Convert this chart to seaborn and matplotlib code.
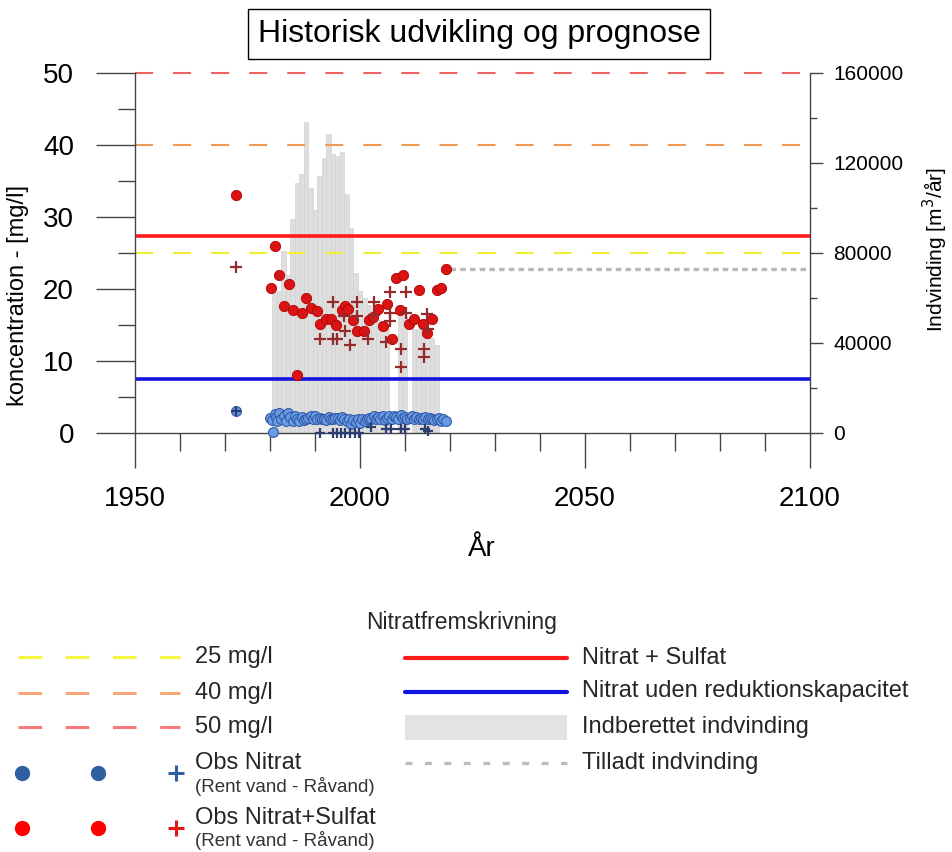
import numpy as np
import pandas as pd
import matplotlib
matplotlib.use("Agg")
import matplotlib.pyplot as plt
from matplotlib.ticker import MultipleLocator, FixedLocator
from matplotlib.patches import Rectangle
import seaborn as sns

sns.set_theme(style="ticks")
plt.rcParams['font.family'] = ['Liberation Sans', 'DejaVu Sans']
plt.rcParams['lines.scale_dashes'] = False

# ---------------- data ----------------
# Indberettet indvinding (m3/år)
bar_years = [1981, 1982, 1983, 1984, 1985, 1986, 1987, 1988, 1989, 1990,
             1991, 1992, 1993, 1994, 1995, 1996, 1997, 1998, 1999, 2000,
             2001, 2002, 2003, 2004, 2005, 2006, 2009, 2010, 2012, 2013,
             2014, 2015, 2016, 2017]
bar_values = [62000, 63000, 81000, 70000, 95000, 111000, 115000, 138000, 109000, 99000,
              114000, 122000, 133000, 124000, 123000, 125000, 106000, 91000, 71000, 63000,
              60000, 57000, 54000, 50000, 48000, 46000, 52000, 52000, 46000, 46000,
              48000, 44000, 42000, 39000]

# Tilladt indvinding
allowed_years = [2020, 2100]
allowed_values = [73000, 73000]

# Prognoses (mg/l)
prognose_nitrat_sulfat = 27.4
prognose_nitrat_uden = 7.5
thresholds = [25, 40, 50]
threshold_labels = ["25 mg/l", "40 mg/l", "50 mg/l"]

# Obs Nitrat+Sulfat, rent vand (red circles)
ns_rent_years = [1972.4, 1980.2, 1981.0, 1982.0, 1983.1, 1984.2, 1985.1, 1986.1, 1987.2, 1988.1,
                 1989.1, 1990.5, 1991.1, 1992.5, 1993.5, 1994.7, 1996.1, 1996.6, 1997.4, 1998.5,
                 1999.4, 2000.8, 2001.9, 2002.8, 2003.9, 2005.1, 2006.1, 2007.0, 2007.9, 2008.9,
                 2009.6, 2010.8, 2011.9, 2013.0, 2014.1, 2014.8, 2015.9, 2017.2, 2017.9, 2019.0]
ns_rent_values = [33.0, 20.1, 26.0, 22.0, 17.7, 20.7, 17.1, 8.1, 16.7, 18.8,
                  17.3, 16.9, 15.1, 15.8, 15.9, 15.0, 17.1, 17.7, 17.2, 15.7,
                  14.1, 14.1, 15.7, 16.1, 17.2, 14.9, 17.9, 13.1, 21.5, 17.1,
                  22.0, 15.2, 15.9, 19.9, 15.1, 13.9, 15.9, 19.9, 20.1, 22.8]

# Obs Nitrat+Sulfat, råvand (red plus)
ns_raa_years = [1972.4, 1991.1, 1993.9, 1993.9, 1994.8, 1996.5, 1996.6, 1997.7, 1999.3, 1999.4,
                2001.8, 2003.0, 2003.1, 2005.7, 2006.6, 2006.6, 2006.6, 2009.1, 2009.1, 2010.3,
                2010.3, 2014.2, 2014.2, 2014.9, 2015.1]
ns_raa_values = [23.0, 13.1, 18.2, 13.1, 13.1, 16.2, 14.2, 12.2, 18.2, 16.2,
                 13.1, 18.2, 16.4, 12.7, 19.6, 16.6, 15.5, 11.6, 9.1, 19.6,
                 16.6, 11.6, 10.5, 16.5, 14.5]

# Obs Nitrat, rent vand (blue circles)
n_rent_years = [1972.4, 1980.0, 1980.4, 1980.6, 1981.0, 1981.3, 1981.6, 1982.0, 1982.4, 1983.0,
                1983.5, 1984.0, 1984.4, 1985.0, 1985.5, 1986.0, 1986.5, 1987.0, 1987.5, 1988.0,
                1988.5, 1989.0, 1989.5, 1990.0, 1990.5, 1991.0, 1991.5, 1992.0, 1992.5, 1993.0,
                1993.5, 1994.0, 1994.5, 1995.0, 1995.5, 1996.0, 1996.5, 1997.0, 1997.5, 1998.0,
                1998.5, 1999.0, 1999.5, 2000.0, 2000.5, 2001.0, 2001.5, 2002.0, 2002.5, 2003.0,
                2003.5, 2004.0, 2004.5, 2005.0, 2005.5, 2006.0, 2006.5, 2007.0, 2007.5, 2008.0,
                2008.5, 2009.0, 2009.5, 2010.0, 2010.5, 2011.0, 2011.5, 2012.0, 2012.5, 2013.0,
                2013.5, 2014.0, 2014.5, 2015.0, 2015.5, 2016.0, 2016.5, 2017.0, 2017.5, 2018.0,
                2018.5, 2019.0]
n_rent_values = [3.0, 2.1, 1.8, 0.1, 2.6, 2.2, 1.7, 2.8, 2.0, 2.4,
                 1.6, 2.8, 2.2, 1.7, 2.3, 2.0, 1.6, 2.2, 1.8, 1.9,
                 2.1, 2.4, 2.0, 2.3, 1.9, 2.1, 2.0, 2.0, 1.8, 2.2,
                 1.9, 2.0, 2.1, 2.1, 1.8, 2.2, 1.9, 1.6, 2.0, 1.3,
                 1.8, 1.5, 1.9, 1.4, 2.0, 1.7, 1.9, 2.1, 1.9, 2.3,
                 2.0, 2.2, 2.0, 2.3, 1.8, 2.1, 2.4, 2.0, 2.3, 2.2,
                 1.9, 2.5, 2.1, 2.2, 1.9, 2.1, 2.3, 2.0, 2.2, 1.9,
                 2.1, 2.0, 2.2, 1.9, 2.1, 2.0, 1.8, 1.9, 2.1, 1.7,
                 2.0, 1.6]

# Obs Nitrat, råvand (blue plus)
n_raa_years = [1972.4, 1991.1, 1993.9, 1994.8, 1995.8, 1996.7, 1997.8, 1998.8, 1999.8, 2002.4,
               2005.7, 2006.8, 2009.2, 2010.1, 2014.4, 2015.2]
n_raa_values = [3.0, 0.0, 0.0, 0.0, 0.0, 0.0, 0.0, 0.0, 0.0, 0.8,
                0.5, 0.5, 0.5, 0.5, 0.5, 0.3]

x_major = [1950, 2000, 2050, 2100]
y_left_ticks = [0, 10, 20, 30, 40, 50]
y_right_ticks = [0, 40000, 80000, 120000, 160000]
y_right_labels = ["0", "40000", "80000", "120000", "160000"]

# ---------------- figure ----------------
W, H = 952, 852
fig = plt.figure(figsize=(W / 100, H / 100), dpi=100)
ax = fig.add_axes([135 / W, 1 - 433 / H, 675 / W, 360 / H])
ax2 = ax.twinx()
ax.set_zorder(ax2.get_zorder() + 1)
ax.patch.set_visible(False)

bars_df = pd.DataFrame({"year": bar_years, "value": bar_values})
sns.barplot(data=bars_df, x="year", y="value", ax=ax2, native_scale=True,
            color="#DEDEDE", saturation=1, width=1.0, edgecolor="#D2D2D2",
            linewidth=0.5, errorbar=None)
ax2.plot(allowed_years, allowed_values, color="#B8B8B8", lw=2.4,
         linestyle=(0, (4, 3)))

# thresholds
thr_colors = ["#EEEE33", "#EE9A55", "#EE6262"]
for t, c in zip(thresholds, thr_colors):
    ax.axhline(t, color=c, lw=1.5, linestyle=(0, (13, 14.4)), zorder=1, clip_on=False)
ax.axhline(prognose_nitrat_sulfat, color="#FF1A1A", lw=2.6, zorder=2)
ax.axhline(prognose_nitrat_uden, color="#1414E0", lw=2.6, zorder=2)

sns.scatterplot(x=n_rent_years, y=n_rent_values, ax=ax, marker="o", s=50,
                color="#6C9BE6", edgecolor="#2F5AA8", linewidth=0.8, zorder=4,
                clip_on=False, legend=False)
sns.scatterplot(x=n_raa_years, y=n_raa_values, ax=ax, marker="+", s=60,
                color="#2C3E70", linewidth=1.6, zorder=5, clip_on=False, legend=False)
sns.scatterplot(x=ns_rent_years, y=ns_rent_values, ax=ax, marker="o", s=55,
                color="#DA1414", edgecolor="#B00000", linewidth=0.6, zorder=4,
                clip_on=False, legend=False)
sns.scatterplot(x=ns_raa_years, y=ns_raa_values, ax=ax, marker="+", s=65,
                color="#962B2B", linewidth=1.6, zorder=5, clip_on=False, legend=False)

# axes
ax.set_xlim(1950, 2100)
ax.set_ylim(0, 50)
ax2.set_ylim(0, 160000)
ax.xaxis.set_major_locator(FixedLocator(x_major))
ax.xaxis.set_minor_locator(MultipleLocator(10))
ax.set_yticks(y_left_ticks)
ax.yaxis.set_minor_locator(MultipleLocator(5))
ax2.set_yticks(y_right_ticks)
ax2.set_yticklabels(y_right_labels)
ax2.yaxis.set_minor_locator(MultipleLocator(20000))
ax.set_xticks(x_major)
ax.set_xticklabels([str(v) for v in x_major])

for a in (ax, ax2):
    a.spines["top"].set_visible(False)
    for s in a.spines.values():
        s.set_color("#444444")
        s.set_linewidth(1.0)
ax.spines["right"].set_visible(False)
ax2.spines["left"].set_visible(False)
ax2.spines["bottom"].set_visible(False)

ax.tick_params(axis="x", which="major", direction="out", length=25, width=1,
               pad=13, labelsize=20, colors="#444444", labelcolor="black")
ax.tick_params(axis="x", which="minor", direction="out", length=13, width=1, colors="#444444")
ax.tick_params(axis="y", which="major", direction="out", length=28, width=1,
               pad=16, labelsize=20, colors="#444444", labelcolor="black")
ax.tick_params(axis="y", which="minor", direction="out", length=12, width=1, colors="#444444")
ax2.tick_params(axis="y", which="major", direction="out", length=9, width=1,
                pad=8, labelsize=15, colors="#444444", labelcolor="black")
ax2.tick_params(axis="y", which="minor", direction="out", length=5, width=1, colors="#444444")
ax2.set_xlabel("")

ax.set_xlabel("År", fontsize=20, color="black")
ax.xaxis.set_label_coords((482 - 135) / 675, (433 - 549) / 360)
ax.xaxis.label.set_va("center")
ax.set_ylabel("koncentration - [mg/l]", fontsize=17, color="black")
ax.yaxis.set_label_coords((18 - 135) / 675, (433 - 295) / 360)
ax.yaxis.label.set_va("center")
ax2.set_ylabel("Indvinding [m$^3$/år]", fontsize=15, color="black")
ax2.yaxis.set_label_coords((935 - 135) / 675, (433 - 250) / 360)
ax2.yaxis.label.set_va("center")

fig.text(479 / W, 1 - 34 / H, "Historisk udvikling og prognose", ha="center", va="center",
         fontsize=23, color="black",
         bbox=dict(boxstyle="square,pad=0.3", fc="white", ec="black", lw=1))

# ---------------- legend (drawn in pixel space) ----------------
lg = fig.add_axes([0, 0, 1, 1], zorder=-5)
lg.set_xlim(0, W)
lg.set_ylim(H, 0)
lg.axis("off")
lfs = 17
leg_thr_colors = ["#F5F540", "#F7A878", "#F77B7B"]
for yy, c, lab in zip([657, 692.5, 726.5], leg_thr_colors, threshold_labels):
    lg.plot([18, 180], [yy, yy], color=c, lw=2.2, linestyle=(0, (17, 17)))
    lg.text(195, yy, lab, fontsize=lfs, va="center", ha="left")

lg.plot([22, 98], [772.5, 772.5], linestyle="none", marker="o", ms=10, color="#2F5F9F")
lg.plot([176], [772.5], linestyle="none", marker="+", ms=12, mew=2.2, color="#2F5F9F")
lg.text(195, 763, "Obs Nitrat", fontsize=lfs, va="center")
lg.text(195, 787, "(Rent vand - Råvand)", fontsize=13.5, va="center", color="#333333")
lg.plot([22, 98], [828, 828], linestyle="none", marker="o", ms=10, color="#FF0000")
lg.plot([176], [828], linestyle="none", marker="+", ms=12, mew=2.2, color="#E01818")
lg.text(195, 818, "Obs Nitrat+Sulfat", fontsize=lfs, va="center")
lg.text(195, 840, "(Rent vand - Råvand)", fontsize=13.5, va="center", color="#333333")

lg.text(462, 623, "Nitratfremskrivning", fontsize=16.5, ha="center", va="center")
lg.plot([405, 567], [657.5, 657.5], color="#FF1A1A", lw=3)
lg.text(582, 657.5, "Nitrat + Sulfat", fontsize=lfs, va="center")
lg.plot([405, 567], [691.5, 691.5], color="#1414E0", lw=3)
lg.text(582, 691.5, "Nitrat uden reduktionskapacitet", fontsize=lfs, va="center")
lg.add_patch(Rectangle((405, 715), 162, 25, fc="#E3E3E3", ec="none"))
lg.text(582, 727.5, "Indberettet indvinding", fontsize=lfs, va="center")
lg.plot([405, 567], [762.5, 762.5], color="#BDBDBD", lw=2.4, linestyle=(0, (5, 9)))
lg.text(582, 762.5, "Tilladt indvinding", fontsize=lfs, va="center")

fig.savefig("out.png", dpi=100, facecolor="white")
